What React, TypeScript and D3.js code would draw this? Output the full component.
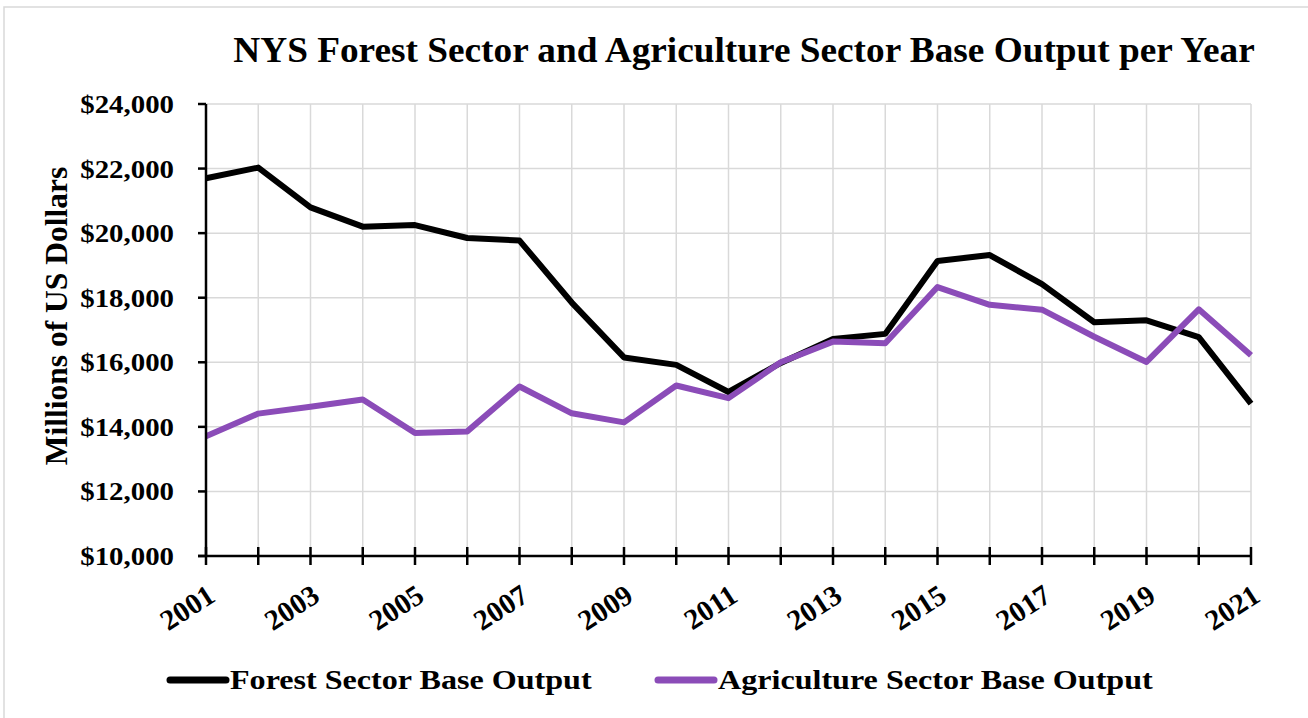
import React from "react";
import * as d3 from "d3";

const years = d3.range(2001, 2022);
const forest = [21700, 22030, 20800, 20200, 20250, 19850, 19770, 17850, 16150, 15920, 15080, 15980, 16720, 16880, 19140, 19320, 18420, 17240, 17300, 16780, 14720];
const agriculture = [13710, 14410, 14620, 14850, 13810, 13860, 15250, 14420, 14140, 15280, 14890, 16000, 16640, 16590, 18330, 17780, 17630, 16790, 16010, 17640, 16220];
const yTicks = [10000, 12000, 14000, 16000, 18000, 20000, 22000, 24000];
const xLabelYears = [2001, 2003, 2005, 2007, 2009, 2011, 2013, 2015, 2017, 2019, 2021];
const title = "NYS Forest Sector and Agriculture Sector Base Output per Year";
const yTitle = "Millions of US Dollars";
const seriesNames = ["Forest Sector Base Output", "Agriculture Sector Base Output"];
const colors = ["#000000", "#8B4CB8"];

const W = 1308, H = 718;
const left = 206, right = 1251, top = 104, bottom = 556;
const FONT = "'Liberation Serif', 'Times New Roman', serif";

export default function App() {
  const x = d3.scaleLinear().domain([2001, 2021]).range([left, right]);
  const y = d3.scaleLinear().domain([10000, 24000]).range([bottom, top]);
  const line = d3.line<number>().x((_, i) => x(years[i])).y((d) => y(d));
  const fmt = (v: number) => "$" + d3.format(",")(v);
  const series = [forest, agriculture];
  const legendX = [170, 658];

  return (
    <svg width={W} height={H} style={{ position: "absolute", left: 0, top: 0 }} fontFamily={FONT} fontWeight="bold">
      <rect x={0} y={0} width={W} height={H} fill="#fff" />
      <rect x={4} y={7} width={W + 20} height={H + 20} fill="none" stroke="#d9d9d9" strokeWidth={1.5} />
      {/* gridlines */}
      {yTicks.map((t) => (
        <line key={"gy" + t} x1={left} x2={right} y1={y(t)} y2={y(t)} stroke="#d9d9d9" strokeWidth={1.5} />
      ))}
      {years.map((yr) => (
        <line key={"gx" + yr} x1={x(yr)} x2={x(yr)} y1={top} y2={bottom} stroke="#d9d9d9" strokeWidth={1.5} />
      ))}
      {/* lines */}
      {series.map((s, i) => (
        <path key={"s" + i} d={line(s) || ""} fill="none" stroke={colors[i]} strokeWidth={6} strokeLinejoin="round" />
      ))}
      {/* axes */}
      <line x1={left} x2={left} y1={top} y2={bottom} stroke="#000" strokeWidth={2.5} />
      <line x1={left - 8} x2={right} y1={bottom} y2={bottom} stroke="#000" strokeWidth={2.5} />
      {yTicks.map((t) => (
        <line key={"ty" + t} x1={left - 8} x2={left} y1={y(t)} y2={y(t)} stroke="#000" strokeWidth={2.5} />
      ))}
      {years.map((yr) => (
        <line key={"tx" + yr} x1={x(yr)} x2={x(yr)} y1={bottom - 9} y2={bottom + 9} stroke="#000" strokeWidth={2.5} />
      ))}
      {/* y tick labels */}
      {yTicks.map((t) => (
        <g key={"ly" + t} transform={`translate(174,${y(t) + 9}) scale(1.11,1)`}>
          <text textAnchor="end" fontSize={26} fill="#000">{fmt(t)}</text>
        </g>
      ))}
      {/* x tick labels */}
      {xLabelYears.map((yr) => (
        <g key={"lx" + yr} transform={`translate(${x(yr) + 11},${bottom + 44}) rotate(-33)`}>
          <text textAnchor="end" fontSize={29} fill="#000">{yr}</text>
        </g>
      ))}
      {/* title */}
      <g transform={`translate(744,62) scale(1.036,1)`}>
        <text textAnchor="middle" fontSize={36} fill="#000">{title}</text>
      </g>
      {/* y title */}
      <g transform={`translate(67,316) rotate(-90)`}>
        <text textAnchor="middle" fontSize={31.5} fill="#000">{yTitle}</text>
      </g>
      {/* legend */}
      {seriesNames.map((n, i) => (
        <g key={"lg" + i}>
          <line x1={legendX[i]} x2={legendX[i] + 56} y1={680} y2={680} stroke={colors[i]} strokeWidth={7} strokeLinecap="round" />
          <g transform={`translate(${legendX[i] + 60},689) scale(1.147,1)`}>
            <text fontSize={28} fill="#000">{n}</text>
          </g>
        </g>
      ))}
    </svg>
  );
}
